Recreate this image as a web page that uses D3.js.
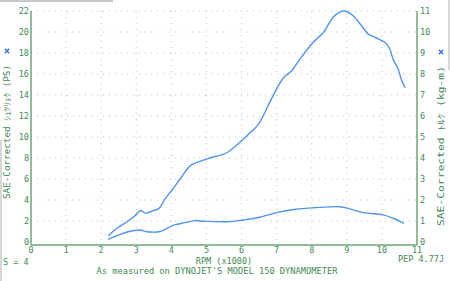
<!DOCTYPE html>
<html>
<head>
<meta charset="utf-8">
<script src="https://cdn.jsdelivr.net/npm/d3@7"></script>
<style>
  body { margin: 0; background: #fff; }
  svg { display: block; }
  text { font-family: "DejaVu Sans Mono", "Noto Sans CJK JP", monospace; fill: #3f8a55; }
</style>
</head>
<body>
<svg id="viz" width="450" height="281"></svg>
<script>
// Dyno sheet: power (PS, left axis) and torque (kg-m, right axis) vs RPM x1000
const rpmTicks = [0, 1, 2, 3, 4, 5, 6, 7, 8, 9, 10, 11];
const psTicks = [0, 2, 4, 6, 8, 10, 12, 14, 16, 18, 20, 22];
const kgmTicks = [0, 1, 2, 3, 4, 5, 6, 7, 8, 9, 10, 11];

const powerRpm = [2.20, 2.49, 2.77, 2.96, 3.12, 3.27, 3.49, 3.65, 3.82, 4.03, 4.25, 4.55, 4.83, 5.10, 5.58, 5.95, 6.24, 6.48, 6.76, 7.05, 7.24, 7.43, 7.66, 8.04, 8.33, 8.61, 8.80, 8.95, 9.18, 9.42, 9.61, 9.80, 10.09, 10.21, 10.32, 10.46, 10.56, 10.66];
const powerPs = [0.6, 1.4, 2.0, 2.5, 3.0, 2.75, 3.0, 3.2, 4.1, 5.0, 6.0, 7.3, 7.7, 8.0, 8.5, 9.5, 10.4, 11.2, 13.0, 14.9, 15.8, 16.3, 17.4, 19.0, 19.95, 21.4, 21.9, 22.0, 21.55, 20.6, 19.8, 19.5, 19.0, 18.5, 17.4, 16.5, 15.4, 14.7];

const torqueRpm = [2.20, 2.49, 2.77, 3.10, 3.30, 3.65, 3.82, 4.03, 4.39, 4.65, 5.00, 5.67, 6.05, 6.52, 7.05, 7.50, 8.23, 8.80, 9.04, 9.47, 10.04, 10.32, 10.63];
const torqueKgm = [0.13, 0.33, 0.49, 0.57, 0.49, 0.49, 0.60, 0.78, 0.92, 1.02, 0.98, 0.97, 1.05, 1.18, 1.42, 1.55, 1.65, 1.68, 1.60, 1.40, 1.29, 1.13, 0.89];

const svg = d3.select('#viz');
const plotLeft = 31, plotRight = 417, plotTop = 11, plotBottom = 242;

const x = d3.scaleLinear().domain([0, 11]).range([plotLeft, plotRight]);
const yPs = d3.scaleLinear().domain([0, 22]).range([plotBottom, plotTop]);
const yKgm = d3.scaleLinear().domain([0, 11]).range([plotBottom, plotTop]);

// scan edges
svg.append('line').attr('x1', 0).attr('x2', 113).attr('y1', 1).attr('y2', 1)
  .attr('stroke', '#c8c8c8').attr('stroke-width', 2);
svg.append('line').attr('x1', 1).attr('x2', 1).attr('y1', 140).attr('y2', 281)
  .attr('stroke', '#d8d8d8').attr('stroke-width', 2);
svg.append('line').attr('x1', 449).attr('x2', 449).attr('y1', 0).attr('y2', 70)
  .attr('stroke', '#d8d8d8').attr('stroke-width', 2);

// dotted grid
const grid = svg.append('g').attr('stroke', '#a9d2b6').attr('stroke-width', 1).attr('stroke-dasharray', '1,5');
rpmTicks.filter(d => d > 0 && d < 11).forEach(d => {
  grid.append('line').attr('x1', x(d)).attr('x2', x(d)).attr('y1', plotTop).attr('y2', plotBottom);
});
psTicks.filter(d => d > 0).forEach(d => {
  grid.append('line').attr('x1', plotLeft).attr('x2', plotRight).attr('y1', yPs(d)).attr('y2', yPs(d));
});

// axes
const axisColor = '#6fa477';
svg.append('line').attr('x1', plotLeft).attr('x2', plotLeft).attr('y1', plotTop).attr('y2', plotBottom + 3)
  .attr('stroke', axisColor).attr('stroke-width', 1.5);
svg.append('line').attr('x1', plotRight).attr('x2', plotRight).attr('y1', plotTop).attr('y2', plotBottom + 3)
  .attr('stroke', axisColor).attr('stroke-width', 1.5);
svg.append('line').attr('x1', plotLeft).attr('x2', plotRight).attr('y1', plotBottom + 3).attr('y2', plotBottom + 3)
  .attr('stroke', axisColor).attr('stroke-width', 1.5);

const fs = '8.5px';
svg.append('g').selectAll('text').data(psTicks).join('text')
  .attr('x', plotLeft - 2).attr('y', d => yPs(d)).attr('dy', '0.35em')
  .attr('text-anchor', 'end').style('font-size', fs).text(d => d);
svg.append('g').selectAll('text').data(kgmTicks).join('text')
  .attr('x', plotRight + 3).attr('y', d => yKgm(d)).attr('dy', '0.35em')
  .attr('text-anchor', 'start').style('font-size', fs).text(d => d);
svg.append('g').selectAll('text').data(rpmTicks).join('text')
  .attr('x', d => x(d)).attr('y', plotBottom + 8).attr('dy', '0.35em')
  .attr('text-anchor', 'middle').style('font-size', fs).text(d => d);

// axis titles
svg.append('text').attr('transform', 'translate(10,132) rotate(-90)')
  .attr('text-anchor', 'middle').style('font-size', '8.5px')
  .attr('textLength', 134).attr('lengthAdjust', 'spacingAndGlyphs')
  .text('SAE-Corrected ｼｭﾂﾘｮｸ (PS)');
svg.append('text').attr('transform', 'translate(444,146) rotate(-90)')
  .attr('text-anchor', 'middle').style('font-size', '8.5px')
  .attr('textLength', 160).attr('lengthAdjust', 'spacingAndGlyphs')
  .text('SAE-Corrected ﾄﾙｸ (kg-m)');

const star = d3.symbol().type(d3.symbolX).size(14);
[[7, 51], [441, 52]].forEach(p => {
  svg.append('path').attr('d', star).attr('transform', `translate(${p[0]},${p[1]})`)
    .attr('fill', 'none').attr('stroke', '#3a6ee8').attr('stroke-width', 1.4);
});

svg.append('text').attr('x', 3).attr('y', 265).style('font-size', fs).text('S = 4');
svg.append('text').attr('x', 224).attr('y', 264).attr('text-anchor', 'middle').style('font-size', fs).text('RPM (x1000)');
svg.append('text').attr('x', 217).attr('y', 274).attr('text-anchor', 'middle').style('font-size', fs)
  .attr('textLength', 241).attr('lengthAdjust', 'spacingAndGlyphs')
  .text("As measured on DYNOJET'S MODEL 150 DYNAMOMETER");
svg.append('text').attr('x', 398).attr('y', 262).style('font-size', fs).text('PEP 4.77J');

// curves
const curveColor = '#4d95ee';
const powerLine = d3.line().x(d => x(d[0])).y(d => yPs(d[1])).curve(d3.curveCatmullRom);
const torqueLine = d3.line().x(d => x(d[0])).y(d => yKgm(d[1])).curve(d3.curveCatmullRom);

svg.append('path').datum(d3.zip(powerRpm, powerPs)).attr('d', powerLine)
  .attr('fill', 'none').attr('stroke', curveColor).attr('stroke-width', 1.4);
svg.append('path').datum(d3.zip(torqueRpm, torqueKgm)).attr('d', torqueLine)
  .attr('fill', 'none').attr('stroke', curveColor).attr('stroke-width', 1.4);
</script>
</body>
</html>
